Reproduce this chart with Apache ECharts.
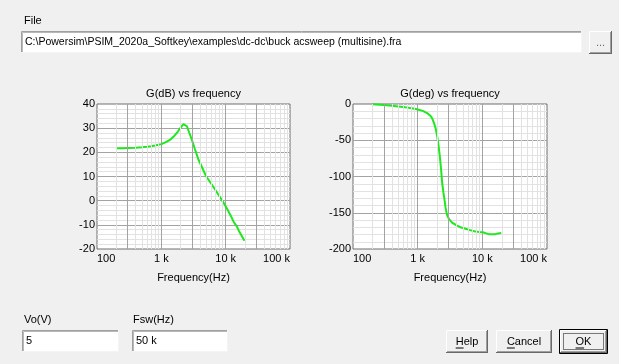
<!DOCTYPE html>
<html><head><meta charset="utf-8">
<script src="https://cdn.jsdelivr.net/npm/echarts@6/dist/echarts.min.js"></script>
<style>html,body{margin:0;padding:0;background:#f0f0f0}#c{width:619px;height:364px}</style>
</head><body><div id="c"></div>
<script>
// ---- data ----
const freqsMag = [200, 250, 300, 400, 500, 600, 700, 800, 900, 1000, 1200, 1400, 1600, 1800, 2000, 2200, 2350, 2500, 2700, 3000, 3300, 3600, 3800, 4000, 4500, 5000, 6000, 7000, 8000, 9000, 10000, 12000, 13200, 14000, 15000, 16000, 18000, 19600];
const magDb    = [21.7, 21.7, 21.8, 21.9, 22.1, 22.3, 22.5, 22.8, 23.1, 23.4, 24.3, 25.4, 26.9, 28.5, 30.2, 31.7, 32.4, 30.8, 28.3, 25.0, 21.6, 18.6, 16.8, 15.6, 12.6, 10.0, 6.9, 4.2, 1.8, -0.3, -2.3, -6.2, -8.6, -9.6, -10.8, -12.4, -14.8, -16.6];
const freqsPhase = [200, 300, 400, 500, 600, 700, 800, 900, 1000, 1200, 1400, 1600, 1700, 1800, 1900, 2000, 2100, 2200, 2300, 2400, 2500, 2600, 2700, 2800, 2900, 3100, 3400, 4000, 4600, 5500, 6500, 7500, 9000, 10200, 10800, 11500, 12500, 14000, 16000, 17500, 18700, 19600];
const phaseDeg   = [-0.5, -1.5, -2.5, -3.3, -4.2, -5.0, -5.8, -6.5, -7.5, -9.5, -12.5, -17, -21, -27, -34, -44, -57, -72, -90, -110, -122, -132, -143, -150, -155, -159.5, -163.5, -167.5, -170, -172, -174, -175.5, -176.5, -177, -175.5, -178.5, -179.5, -179.5, -179.5, -178.5, -176.5, -178];
const titles = ['G(dB) vs frequency', 'G(deg) vs frequency'];
const xAxisName = 'Frequency(Hz)';
const xRange = [100, 100000];
const magRange = [-20, 40, 10];
const phaseRange = [-200, 0, 50];
const lightGridFreqs = [200, 400, 500, 600, 700, 800, 900, 2000, 4000, 5000, 6000, 7000, 8000, 9000, 20000, 40000, 50000, 60000, 70000, 80000, 90000];
const darkGridFreqs = [300, 3000, 30000];
const filePath = 'C:\\Powersim\\PSIM_2020a_Softkey\\examples\\dc-dc\\buck acsweep (multisine).fra';
const voValue = '5';
const fswValue = '50 k';

// ---- styling ----
const FONT = '"Liberation Sans", Arial, sans-serif';
const UIFONT = '11px "Liberation Sans", Arial, sans-serif';
const PATHFONT = '10.5px "Liberation Sans", Arial, sans-serif';
const DARK = '#a3a3a3', LIGHT = '#e2e2e2', FRAME = '#6e6e6e', GREEN = '#1ee81e';

const mctx = document.createElement('canvas').getContext('2d');
function tw(t, font) { mctx.font = font; return mctx.measureText(t).width; }

const grids = [
  {left: 97, top: 104, width: 193, height: 145},
  {left: 353, top: 104, width: 194, height: 145}
];
function fmtFreq(v) { v = Math.round(v); return v >= 1000 ? (v / 1000) + ' k' : String(v); }

const option = {
  animation: false,
  backgroundColor: '#f0f0f0',
  title: grids.map((g, i) => ({
    text: titles[i], left: g.left + g.width / 2, top: 88, textAlign: 'center', padding: 0,
    textStyle: {fontFamily: FONT, fontSize: 11, fontWeight: 'normal', color: '#000'}
  })),
  grid: grids.map(g => Object.assign({show: true, backgroundColor: '#fff', borderColor: FRAME, borderWidth: 1, z: 0}, g)),
  xAxis: grids.map((g, i) => ({
    type: 'log', logBase: 10, gridIndex: i, min: xRange[0], max: xRange[1], z: 2,
    axisLine: {show: false}, axisTick: {show: false},
    splitLine: {show: true, showMinLine: false, showMaxLine: false, lineStyle: {color: DARK, width: 1}},
    axisLabel: {formatter: fmtFreq, fontFamily: FONT, fontSize: 11, color: '#000', margin: 4, alignMinLabel: 'left', alignMaxLabel: 'right'},
    name: xAxisName, nameLocation: 'middle', nameGap: 23,
    nameTextStyle: {fontFamily: FONT, fontSize: 11, color: '#000'}
  })),
  yAxis: [magRange, phaseRange].map((r, i) => ({
    type: 'value', gridIndex: i, min: r[0], max: r[1], interval: r[2], z: 1.5,
    axisLine: {show: false}, axisTick: {show: false},
    splitLine: {show: true, showMinLine: false, showMaxLine: false, lineStyle: {color: DARK, width: 1}},
    minorTick: {show: false, splitNumber: 5},
    minorSplitLine: {show: true, lineStyle: {color: LIGHT, width: 1}},
    axisLabel: {fontFamily: FONT, fontSize: 11, color: '#000', margin: 2}
  })),
  series: []
};

[0, 1].forEach(i => {
  option.series.push({
    type: 'line', xAxisIndex: i, yAxisIndex: i, data: [], z: 1, silent: true,
    markLine: {silent: true, symbol: 'none', label: {show: false}, animation: false,
      lineStyle: {type: 'solid', color: LIGHT, width: 1},
      data: lightGridFreqs.map(f => ({xAxis: f}))}
  });
  option.series.push({
    type: 'line', xAxisIndex: i, yAxisIndex: i, data: [], z: 2.5, silent: true,
    markLine: {silent: true, symbol: 'none', label: {show: false}, animation: false,
      lineStyle: {type: 'solid', color: DARK, width: 1},
      data: darkGridFreqs.map(f => ({xAxis: f}))}
  });
});
option.series.push({
  type: 'line', xAxisIndex: 0, yAxisIndex: 0, z: 3, showSymbol: false, symbol: 'none',
  lineStyle: {color: GREEN, width: 2}, data: freqsMag.map((f, k) => [f, magDb[k]])
});
option.series.push({
  type: 'line', xAxisIndex: 1, yAxisIndex: 1, z: 3, showSymbol: false, symbol: 'none',
  lineStyle: {color: GREEN, width: 2}, data: freqsPhase.map((f, k) => [f, phaseDeg[k]])
});

// ---- dialog chrome ----
const G = [];
function line(x1, y1, x2, y2, c) { G.push({type: 'line', shape: {x1, y1, x2, y2}, style: {stroke: c, lineWidth: 1}, silent: true, z: 10}); }
function text(t, x, y, opts) { G.push({type: 'text', x, y, silent: true, z: 11, style: Object.assign({text: t, font: UIFONT, fill: '#000', verticalAlign: 'middle', align: 'left'}, opts || {})}); }
function sunken(x, y, w, h) {
  G.push({type: 'rect', shape: {x, y, width: w, height: h}, style: {fill: '#fff'}, silent: true, z: 9});
  line(x + 0.5, y + 0.5, x + w, y + 0.5, '#a0a0a0');
  line(x + 0.5, y + 0.5, x + 0.5, y + h, '#a0a0a0');
  line(x + 1.5, y + 1.5, x + w - 1, y + 1.5, '#b8b8b8');
  line(x + 1.5, y + 1.5, x + 1.5, y + h - 1, '#b8b8b8');
  line(x, y + h - 0.5, x + w, y + h - 0.5, '#f4f4f4');
  line(x + w - 0.5, y, x + w - 0.5, y + h, '#f4f4f4');
}
function button(x, y, w, h, label, underline, isDefault) {
  G.push({type: 'rect', shape: {x, y, width: w, height: h}, style: {fill: '#f0f0f0'}, silent: true, z: 9});
  let ox = x, oy = y, ow = w, oh = h;
  if (isDefault) {
    G.push({type: 'rect', shape: {x: x + 0.5, y: y + 0.5, width: w - 1, height: h - 1}, style: {fill: 'none', stroke: '#000', lineWidth: 1}, silent: true, z: 10});
    ox = x + 1; oy = y + 1; ow = w - 2; oh = h - 2;
  }
  line(ox + 0.5, oy + 0.5, ox + ow - 1, oy + 0.5, '#ffffff');
  line(ox + 0.5, oy + 0.5, ox + 0.5, oy + oh - 1, '#ffffff');
  line(ox, oy + oh - 0.5, ox + ow, oy + oh - 0.5, '#696969');
  line(ox + ow - 0.5, oy, ox + ow - 0.5, oy + oh, '#696969');
  line(ox + 1, oy + oh - 1.5, ox + ow - 1, oy + oh - 1.5, '#a0a0a0');
  line(ox + ow - 1.5, oy + 1, ox + ow - 1.5, oy + oh - 1, '#a0a0a0');
  const cx = x + w / 2, cy = y + h / 2;
  const wdt = tw(label, UIFONT);
  text(label, cx, cy, {align: 'center', fill: label === '...' ? '#6d6d6d' : '#000'});
  if (underline) {
    const sx = cx - wdt / 2, ul = tw(label[0], UIFONT);
    line(sx, cy + 6.5, sx + ul, cy + 6.5, '#000');
  }
  if (isDefault) {
    G.push({type: 'rect', shape: {x: x + 4.5, y: y + 4.5, width: w - 9, height: h - 9}, style: {fill: 'none', stroke: '#000', lineWidth: 1, lineDash: [1, 1]}, silent: true, z: 10});
  }
}
text('File', 24, 21);
sunken(21, 31, 561, 22);
text(filePath, 25, 42, {font: PATHFONT});
button(589, 31, 23, 23, '...', false, false);
text('Vo(V)', 24, 320);
sunken(22, 330, 97, 22);
text(voValue, 26, 341);
text('Fsw(Hz)', 133, 320);
sunken(132, 330, 96, 22);
text(fswValue, 136, 341);
button(446, 330, 42, 23, 'Help', true, false);
button(496, 330, 56, 23, 'Cancel', true, false);
button(559, 329, 49, 25, 'OK', true, true);
option.graphic = G;

const chart = echarts.init(document.getElementById('c'), null, {renderer: 'canvas'});
chart.setOption(option);
</script></body></html>
